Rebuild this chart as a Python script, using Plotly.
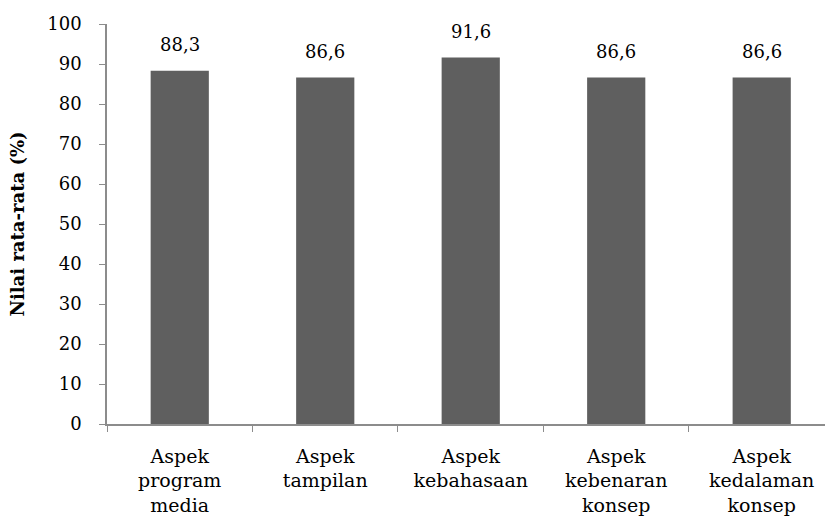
import plotly.graph_objects as go

categories = ["Aspek<br>program<br>media", "Aspek<br>tampilan", "Aspek<br>kebahasaan",
              "Aspek<br>kebenaran<br>konsep", "Aspek<br>kedalaman<br>konsep"]
values = [88.3, 86.6, 91.6, 86.6, 86.6]
value_labels = ["88,3", "86,6", "91,6", "86,6", "86,6"]
y_title = "Nilai rata-rata (%)"

FONT = "DejaVu Serif"

fig = go.Figure(go.Bar(
    x=categories, y=values,
    marker=dict(color="#5f5f5f", line=dict(width=0)), width=0.4,
))

for c, v, t in zip(categories, values, value_labels):
    fig.add_annotation(x=c, y=v, text=t, showarrow=False, yanchor="bottom", yshift=14,
                       font=dict(family=FONT, size=18, color="#000"))

fig.update_layout(
    width=825, height=526,
    margin=dict(l=107, r=0, t=24, b=102),
    plot_bgcolor="white", paper_bgcolor="white",
    font=dict(family=FONT, size=18, color="#000"),
    showlegend=False,
)
fig.update_xaxes(
    range=[-0.5, 4.435], showline=True, linecolor="#8c8c8c", linewidth=1.5,
    ticks="outside", tickcolor="#8c8c8c", ticklen=6, tickson="boundaries",
    showgrid=False, tickfont=dict(family=FONT, size=19), ticklabelstandoff=14,
)
fig.update_yaxes(
    range=[0, 100], dtick=10, showline=True, linecolor="#8c8c8c", linewidth=1.5,
    ticks="outside", tickcolor="#8c8c8c", ticklen=6, showgrid=False, zeroline=False,
    tickfont=dict(family=FONT, size=18), ticklabelstandoff=14,
    title=dict(text="<b>" + y_title + "</b>", font=dict(family=FONT, size=18), standoff=18),
)

fig.write_html("out.html")
